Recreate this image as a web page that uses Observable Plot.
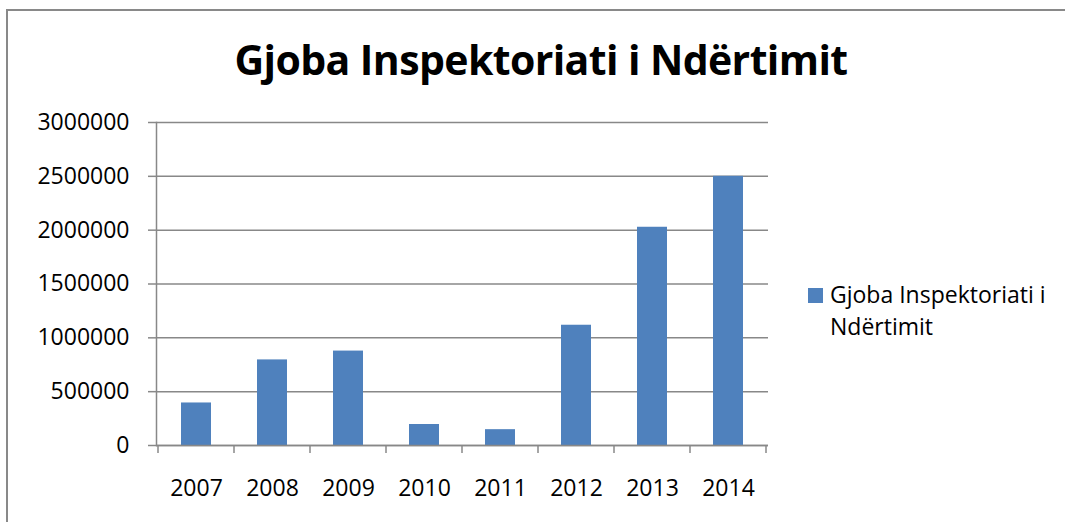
<!DOCTYPE html>
<html>
<head>
<meta charset="utf-8">
<script src="https://cdn.jsdelivr.net/npm/d3@7"></script>
<script src="https://cdn.jsdelivr.net/npm/@observablehq/plot@0.6"></script>
<style>
  html, body { margin: 0; padding: 0; background: #fff; }
  #wrap { position: relative; width: 1065px; height: 522px; overflow: hidden; font-family: "Open Sans", sans-serif; }
  #border { position: absolute; left: 6px; top: 9px; right: -10px; bottom: -10px; border-left: 2px solid #898989; border-top: 2px solid #898989; }
  #title { position: absolute; left: 0; width: 1082px; top: 31px; text-align: center; font-weight: bold; font-size: 41px; line-height: normal; color: #000; letter-spacing: -0.6px; white-space: nowrap; }
  #legend { position: absolute; left: 808px; top: 278px; font-size: 23px; color: #000; line-height: 32px; white-space: nowrap; }
  #legend .sw { display: inline-block; width: 15px; height: 15px; background: #4F81BD; margin-right: 7px; vertical-align: 0; }
  #legend .l2 { padding-left: 22px; }
  #chart { position: absolute; left: 0; top: 0; }
</style>
</head>
<body>
<div id="wrap">
  <div id="border"></div>
  <div id="chart"></div>
  <div id="title"></div>
  <div id="legend"></div>
</div>
<script>
const years = ["2007", "2008", "2009", "2010", "2011", "2012", "2013", "2014"];
const values = [395000, 795000, 877000, 195000, 147000, 1117000, 2027000, 2500000];
const yTicks = [0, 500000, 1000000, 1500000, 2000000, 2500000, 3000000];
const seriesName = "Gjoba Inspektoriati i Ndërtimit";
const barColor = "#4F81BD";
const gridColor = "#888888";

const data = years.map((y, i) => ({year: y, value: values[i]}));

document.getElementById("title").textContent = seriesName;
const legend = document.getElementById("legend");
legend.innerHTML = '<div><span class="sw"></span>Gjoba Inspektoriati i</div><div class="l2">Ndërtimit</div>';

function boundaryTicks() {
  return (index, scales, values, dims) => {
    const x = scales.x;
    const step = x.step();
    const bw = x.bandwidth();
    const half = (step - bw) / 2;
    const xs = years.map(y => x(y) - half);
    xs.push(x(years[years.length - 1]) + bw + half);
    const y0 = dims.height - dims.marginBottom;
    const g = d3.create("svg:g");
    g.selectAll("line").data(xs).join("line")
      .attr("x1", d => d).attr("x2", d => d)
      .attr("y1", y0).attr("y2", y0 + 8)
      .attr("stroke", gridColor).attr("stroke-width", 1.5);
    return g.node();
  };
}

const chart = Plot.plot({
  width: 1065,
  height: 522,
  marginLeft: 156,
  marginRight: 297,
  marginTop: 122,
  marginBottom: 77,
  style: {fontFamily: "Open Sans, sans-serif", fontSize: "23px", color: "#000", background: "transparent"},
  x: {domain: years, paddingInner: 0.6, paddingOuter: 0.3, label: null},
  y: {domain: [0, 3000000], label: null},
  marks: [
    Plot.gridY(yTicks, {stroke: gridColor, strokeOpacity: 1, strokeWidth: 1.5}),
    Plot.barY(data, {x: "year", y: "value", fill: barColor}),
    Plot.ruleY([0], {stroke: gridColor, strokeWidth: 1.5}),
    Plot.frame({anchor: "left", stroke: gridColor, strokeWidth: 1.5}),
    boundaryTicks(),
    Plot.axisY({ticks: yTicks, tickFormat: d => String(d), tickSize: 8, tickPadding: 19, stroke: gridColor, strokeWidth: 1.5, fontSize: 23, fill: "#000", label: null}),
    Plot.axisX({tickSize: 0, tickPadding: 34, fontSize: 23, fill: "#000", label: null})
  ]
});
document.getElementById("chart").appendChild(chart);
</script>
</body>
</html>
